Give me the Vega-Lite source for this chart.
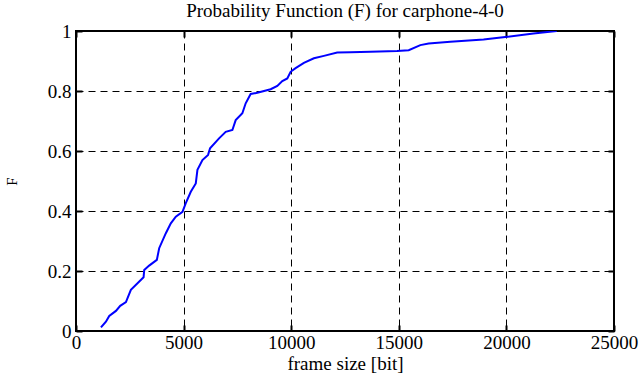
{
  "$schema": "https://vega.github.io/schema/vega-lite/v6.json",
  "width": 538,
  "height": 300,
  "autosize": "none",
  "padding": {"left": 76, "top": 31, "right": 25, "bottom": 56},
  "background": "white",
  "title": {"text": "Probability Function (F) for carphone-4-0", "font": "Liberation Serif", "fontSize": 19, "fontWeight": "normal", "color": "black", "offset": 1, "anchor": "middle"},
  "config": {
    "font": "Liberation Serif",
    "view": {"stroke": "black", "strokeWidth": 2},
    "axis": {"labelFont": "Liberation Serif", "titleFont": "Liberation Serif", "labelFontSize": 19, "titleFontSize": 19, "titleFontWeight": "normal", "labelColor": "black", "titleColor": "black", "domain": false, "tickColor": "black", "tickWidth": 2, "tickSize": -6, "gridColor": "black", "gridDash": [7, 5], "gridOpacity": 1, "gridWidth": 1}
  },
  "data": {"values": [
    {"size": 1160, "F": 0.012},
    {"size": 1390, "F": 0.031},
    {"size": 1545, "F": 0.05},
    {"size": 1855, "F": 0.067},
    {"size": 2055, "F": 0.084},
    {"size": 2320, "F": 0.096},
    {"size": 2550, "F": 0.137},
    {"size": 3140, "F": 0.179},
    {"size": 3170, "F": 0.203},
    {"size": 3400, "F": 0.218},
    {"size": 3757, "F": 0.237},
    {"size": 3865, "F": 0.276},
    {"size": 4175, "F": 0.326},
    {"size": 4406, "F": 0.359},
    {"size": 4638, "F": 0.381},
    {"size": 4948, "F": 0.397},
    {"size": 5102, "F": 0.426},
    {"size": 5334, "F": 0.464},
    {"size": 5566, "F": 0.492},
    {"size": 5643, "F": 0.537},
    {"size": 5875, "F": 0.57},
    {"size": 6137, "F": 0.587},
    {"size": 6230, "F": 0.609},
    {"size": 6647, "F": 0.642},
    {"size": 6957, "F": 0.664},
    {"size": 7267, "F": 0.67},
    {"size": 7421, "F": 0.703},
    {"size": 7730, "F": 0.726},
    {"size": 7885, "F": 0.759},
    {"size": 8117, "F": 0.79},
    {"size": 8426, "F": 0.794},
    {"size": 9045, "F": 0.806},
    {"size": 9355, "F": 0.817},
    {"size": 9587, "F": 0.833},
    {"size": 9819, "F": 0.842},
    {"size": 9972, "F": 0.864},
    {"size": 10204, "F": 0.876},
    {"size": 10590, "F": 0.894},
    {"size": 11055, "F": 0.909},
    {"size": 11519, "F": 0.917},
    {"size": 12137, "F": 0.928},
    {"size": 12755, "F": 0.929},
    {"size": 13683, "F": 0.931},
    {"size": 14920, "F": 0.933},
    {"size": 15460, "F": 0.936},
    {"size": 16000, "F": 0.953},
    {"size": 16387, "F": 0.958},
    {"size": 17393, "F": 0.964},
    {"size": 18938, "F": 0.972},
    {"size": 19944, "F": 0.98},
    {"size": 21258, "F": 0.992},
    {"size": 22340, "F": 1.0}
  ]},
  "layer": [
    {
      "mark": {"type": "line", "color": "#0000ff", "strokeWidth": 2, "clip": true},
      "encoding": {
        "x": {"field": "size", "type": "quantitative", "scale": {"domain": [0, 25000], "nice": false}, "axis": {"orient": "bottom", "title": "frame size [bit]", "values": [0, 5000, 10000, 15000, 20000, 25000], "format": "d", "labelPadding": 8, "titlePadding": 2, "labelFlush": false}},
        "y": {"field": "F", "type": "quantitative", "scale": {"domain": [0, 1], "nice": false, "zero": false}, "axis": {"orient": "left", "title": "F", "titleFontSize": 15, "values": [0, 0.2, 0.4, 0.6, 0.8, 1], "format": "~g", "labelPadding": 11, "titlePadding": 28}}
      }
    },
    {
      "mark": {"type": "line", "opacity": 0},
      "encoding": {
        "x": {"field": "size", "type": "quantitative", "scale": {"domain": [0, 25000], "nice": false}, "axis": {"orient": "top", "title": null, "labels": false, "grid": false, "values": [0, 5000, 10000, 15000, 20000, 25000]}},
        "y": {"field": "F", "type": "quantitative", "scale": {"domain": [0, 1], "nice": false, "zero": false}, "axis": {"orient": "right", "title": null, "labels": false, "grid": false, "values": [0, 0.2, 0.4, 0.6, 0.8, 1]}}
      }
    }
  ],
  "resolve": {"axis": {"x": "independent", "y": "independent"}}
}
